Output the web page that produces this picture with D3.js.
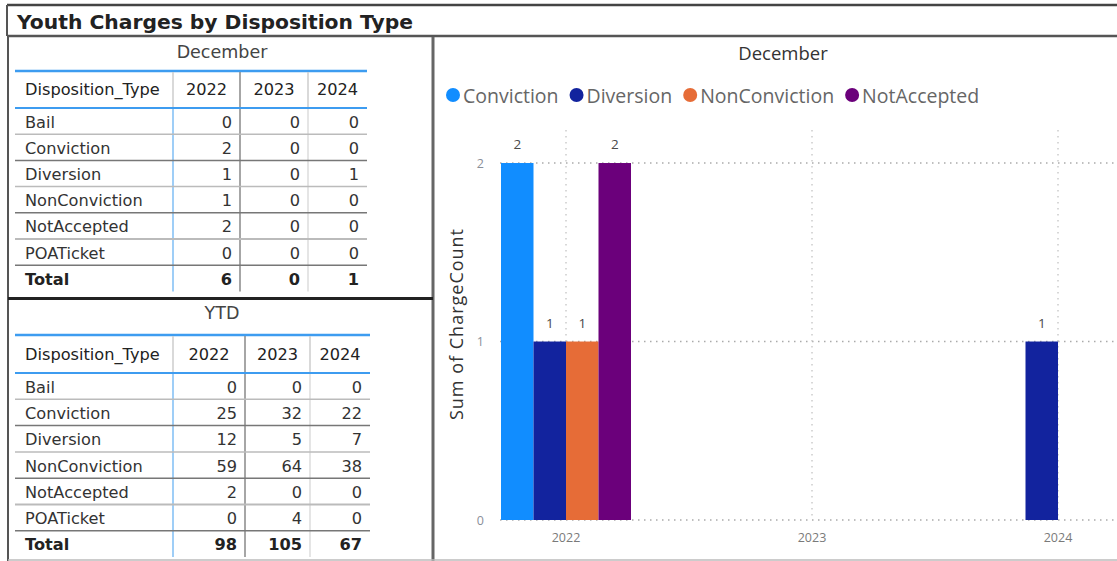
<!DOCTYPE html>
<html>
<head>
<meta charset="utf-8">
<script src="https://cdn.jsdelivr.net/npm/d3@7"></script>
<style>
  html, body { margin: 0; padding: 0; background: #fff; }
  svg { display: block; }
</style>
</head>
<body>
<svg id="chart" width="1117" height="561"></svg>
<script>
// ---------- data ----------
const dispositionTypes = ["Bail", "Conviction", "Diversion", "NonConviction", "NotAccepted", "POATicket"];
const years = ["2022", "2023", "2024"];
const decemberValues = [
  [0, 0, 0],
  [2, 0, 0],
  [1, 0, 1],
  [1, 0, 0],
  [2, 0, 0],
  [0, 0, 0]
];
const ytdValues = [
  [0, 0, 0],
  [25, 32, 22],
  [12, 5, 7],
  [59, 64, 38],
  [2, 0, 0],
  [0, 4, 0]
];
const chartSeries = ["Conviction", "Diversion", "NonConviction", "NotAccepted"];
const seriesColors = ["#118DFF", "#12239E", "#E66C37", "#6B007B"];
const yTicks = [0, 1, 2];

// ---------- setup ----------
const svg = d3.select("#chart");
const FONT = "'Open Sans', 'DejaVu Sans', sans-serif";
const TFONT = "'DejaVu Sans', sans-serif";

// frame
const frame = svg.append("g");
frame.append("line").attr("x1", 7).attr("x2", 1117).attr("y1", 5).attr("y2", 5).attr("stroke", "#444").attr("stroke-width", 2.5);
frame.append("line").attr("x1", 7).attr("x2", 1117).attr("y1", 36).attr("y2", 36).attr("stroke", "#555").attr("stroke-width", 2.5);
frame.append("line").attr("x1", 7).attr("x2", 7).attr("y1", 5).attr("y2", 36).attr("stroke", "#555").attr("stroke-width", 2);
// left panel box
frame.append("line").attr("x1", 8).attr("x2", 8).attr("y1", 37).attr("y2", 561).attr("stroke", "#555").attr("stroke-width", 2);
frame.append("line").attr("x1", 433).attr("x2", 433).attr("y1", 37).attr("y2", 561).attr("stroke", "#666").attr("stroke-width", 3);
frame.append("line").attr("x1", 8).attr("x2", 433).attr("y1", 298.5).attr("y2", 298.5).attr("stroke", "#222").attr("stroke-width", 3);
frame.append("line").attr("x1", 8).attr("x2", 1117).attr("y1", 560).attr("y2", 560).attr("stroke", "#bbb").attr("stroke-width", 1.5);

svg.append("text").attr("x", 17).attr("y", 29)
  .attr("font-family", "'DejaVu Sans', sans-serif").attr("font-weight", "bold")
  .attr("font-size", 20.3).attr("fill", "#222")
  .text("Youth Charges by Disposition Type");

// ---------- tables ----------
function drawTable(title, values, cfg) {
  const g = svg.append("g");
  const cols = cfg.cols; // [labelStart, c1, c2, c3, end]
  const rowH = cfg.rowH;
  g.append("text").attr("x", 222).attr("y", cfg.titleY).attr("text-anchor", "middle")
    .attr("dominant-baseline", "central").attr("font-family", TFONT).attr("font-size", 17.5)
    .attr("fill", "#444").text(title);
  // blue lines
  g.append("line").attr("x1", 15).attr("x2", cols[4]).attr("y1", cfg.blueTop).attr("y2", cfg.blueTop)
    .attr("stroke", "#3d9cf0").attr("stroke-width", 2.5);
  g.append("line").attr("x1", 15).attr("x2", cols[4]).attr("y1", cfg.headerBottom).attr("y2", cfg.headerBottom)
    .attr("stroke", "#3d9cf0").attr("stroke-width", 2);
  const nRows = dispositionTypes.length + 1;
  const bodyBottom = cfg.headerBottom + nRows * rowH;
  // header
  const headerY = (cfg.blueTop + cfg.headerBottom) / 2;
  g.append("text").attr("x", 25).attr("y", headerY).attr("dominant-baseline", "central")
    .attr("font-family", TFONT).attr("font-size", 16.2).attr("fill", "#222").text("Disposition_Type");
  years.forEach((yr, j) => {
    g.append("text").attr("x", (cols[j + 1] + cols[j + 2]) / 2).attr("y", headerY)
      .attr("text-anchor", "middle").attr("dominant-baseline", "central")
      .attr("font-family", TFONT).attr("font-size", 16.2).attr("fill", "#222").text(yr);
  });
  // column dividers
  [1, 2, 3].forEach(k => {
    g.append("line").attr("x1", cols[k]).attr("x2", cols[k]).attr("y1", cfg.blueTop + 1).attr("y2", cfg.headerBottom - 1)
      .attr("stroke", k === 2 ? "#888" : "#ccc").attr("stroke-width", 1.5);
    g.append("line").attr("x1", cols[k]).attr("x2", cols[k]).attr("y1", cfg.headerBottom + 1).attr("y2", bodyBottom)
      .attr("stroke", k === 1 ? "#7fbef5" : (k === 2 ? "#888" : "#ddd")).attr("stroke-width", 1.5);
  });
  const totals = years.map((_, j) => d3.sum(values, r => r[j]));
  const rows = dispositionTypes.map((t, i) => ({ label: t, vals: values[i], bold: false }))
    .concat([{ label: "Total", vals: totals, bold: true }]);
  rows.forEach((r, i) => {
    const y0 = cfg.headerBottom + i * rowH;
    const cy = y0 + rowH / 2 + 1;
    if (i > 0) {
      g.append("line").attr("x1", 15).attr("x2", cols[4]).attr("y1", y0).attr("y2", y0)
        .attr("stroke", i % 2 === 0 ? "#777" : "#bbb").attr("stroke-width", i === 5 ? 2 : 1.5);
    }
    g.append("text").attr("x", 25).attr("y", cy).attr("dominant-baseline", "central")
      .attr("font-family", TFONT).attr("font-size", 16.2).attr("font-weight", r.bold ? "bold" : "normal")
      .attr("fill", r.bold ? "#222" : "#333").text(r.label);
    r.vals.forEach((v, j) => {
      g.append("text").attr("x", cols[j + 2] - 8).attr("y", cy).attr("text-anchor", "end")
        .attr("dominant-baseline", "central").attr("font-family", TFONT).attr("font-size", 16.2)
        .attr("font-weight", r.bold ? "bold" : "normal").attr("fill", r.bold ? "#222" : "#333").text(v);
    });
  });
}

drawTable("December", decemberValues, {
  titleY: 52, blueTop: 71, headerBottom: 108, rowH: 26.2, cols: [15, 173, 240, 308, 367]
});
drawTable("YTD", ytdValues, {
  titleY: 313, blueTop: 335, headerBottom: 373, rowH: 26.3, cols: [15, 173, 245, 310, 370]
});

// ---------- chart ----------
const cg = svg.append("g");
cg.append("text").attr("x", 783).attr("y", 52).attr("text-anchor", "middle").attr("dominant-baseline", "central")
  .attr("font-family", FONT).attr("font-size", 18.5).attr("fill", "#333").text("December");

// legend
const legend = cg.append("g");
let lx = 453;
chartSeries.forEach((s, i) => {
  legend.append("circle").attr("cx", lx).attr("cy", 95).attr("r", 7).attr("fill", seriesColors[i]);
  const t = legend.append("text").attr("x", lx + 10).attr("y", 95).attr("dominant-baseline", "central")
    .attr("font-family", FONT).attr("font-size", 19.5).attr("fill", "#666").text(s);
  lx = lx + 10 + t.node().getComputedTextLength() + 18;
});

const x = d3.scaleBand().domain(years).range([443, 1181]);
const x1 = d3.scaleBand().domain(chartSeries).range([0, 130]);
const y = d3.scaleLinear().domain([0, 2.185]).range([520, 130]);

// gridlines
cg.append("g").selectAll("line.h").data(yTicks).join("line")
  .attr("x1", 500).attr("x2", 1117).attr("y1", d => y(d)).attr("y2", d => y(d))
  .attr("stroke", "#aaa").attr("stroke-width", 1.5).attr("stroke-dasharray", "1.5,4.5");
cg.append("g").selectAll("line.v").data(years).join("line")
  .attr("x1", d => x(d) + x.bandwidth() / 2).attr("x2", d => x(d) + x.bandwidth() / 2)
  .attr("y1", y.range()[1]).attr("y2", y(0))
  .attr("stroke", "#ccc").attr("stroke-width", 1.5).attr("stroke-dasharray", "1.5,4.5");

// y axis labels
cg.append("g").selectAll("text").data(yTicks).join("text")
  .attr("x", 484).attr("y", d => y(d)).attr("text-anchor", "end").attr("dominant-baseline", "central")
  .attr("font-family", FONT).attr("font-size", 12.5).attr("fill", "#8a8f99").text(d => d);

// x axis labels
cg.append("g").selectAll("text").data(years).join("text")
  .attr("x", d => x(d) + x.bandwidth() / 2).attr("y", 537).attr("text-anchor", "middle")
  .attr("dominant-baseline", "central").attr("font-family", FONT).attr("font-size", 12.5)
  .attr("fill", "#7a7a7a").text(d => d);

// y axis title
cg.append("text").attr("transform", "translate(456,324) rotate(-90)").attr("text-anchor", "middle")
  .attr("dominant-baseline", "central").attr("font-family", FONT).attr("font-size", 18)
  .attr("letter-spacing", 1).attr("fill", "#333").text("Sum of ChargeCount");

// bars
const barData = [];
years.forEach((yr, j) => {
  chartSeries.forEach((s, k) => {
    const row = dispositionTypes.indexOf(s);
    barData.push({ year: yr, series: s, color: seriesColors[k], value: decemberValues[row][j] });
  });
});
const groupOffset = x.bandwidth() / 2 - 65;
const nonZero = barData.filter(d => d.value > 0);
cg.append("g").selectAll("rect").data(nonZero).join("rect")
  .attr("x", d => x(d.year) + groupOffset + x1(d.series))
  .attr("width", x1.bandwidth())
  .attr("y", d => y(d.value)).attr("height", d => y(0) - y(d.value))
  .attr("fill", d => d.color);
cg.append("g").selectAll("text").data(nonZero).join("text")
  .attr("x", d => x(d.year) + groupOffset + x1(d.series) + x1.bandwidth() / 2)
  .attr("y", d => y(d.value) - 19).attr("text-anchor", "middle").attr("dominant-baseline", "central")
  .attr("font-family", FONT).attr("font-size", 13.5).attr("fill", "#4a4a4a").text(d => d.value);
</script>
</body>
</html>
